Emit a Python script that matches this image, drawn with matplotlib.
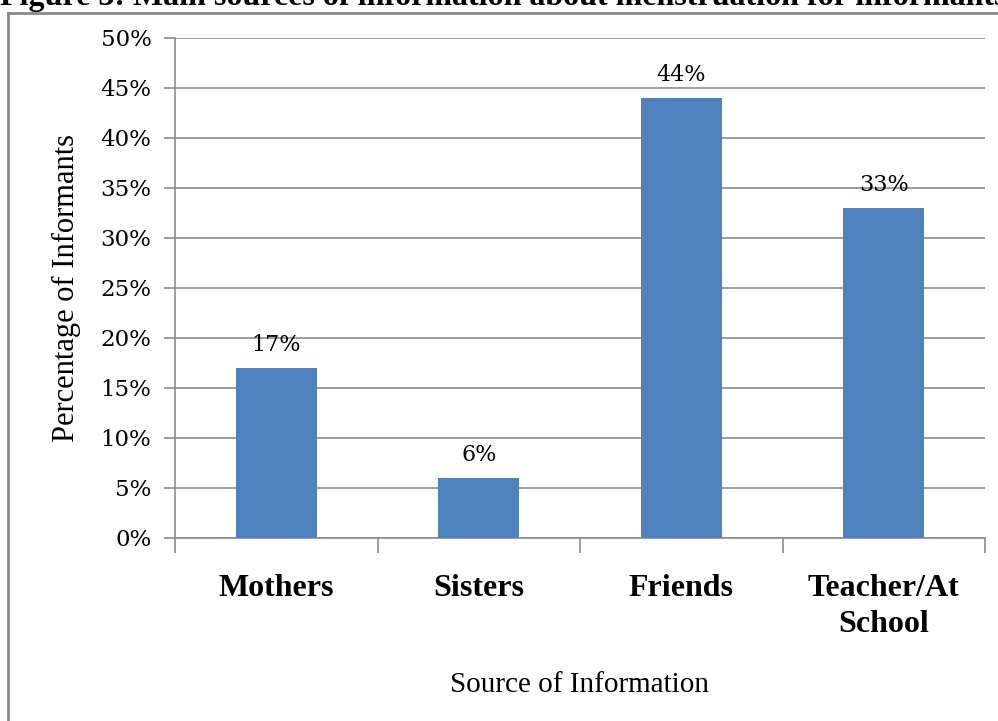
import matplotlib
matplotlib.use("Agg")
import matplotlib.pyplot as plt
from matplotlib.lines import Line2D
from matplotlib.ticker import FuncFormatter, MultipleLocator

# Sources of information and share of informants (%)
sources = ["Mothers", "Sisters", "Friends", "Teacher/At\nSchool"]
shares = [17, 6, 44, 33]
title = "Figure 3: Main sources of information about menstruation for informants"

plt.rcParams["font.family"] = ["Liberation Serif", "DejaVu Serif"]
num_font = ["DejaVu Serif"]

fig = plt.figure(figsize=(9.98, 7.21), dpi=100)
ax = fig.add_axes([175 / 998, 1 - 538 / 721, 810 / 998, 500 / 721])

x = range(len(sources))
bars = ax.bar(x, shares, width=0.4, color="#4F81BD", zorder=3)
for b, v in zip(bars, shares):
    ax.text(b.get_x() + b.get_width() / 2, v + 1.2, f"{v}%",
            ha="center", va="bottom", fontsize=16, family=num_font)

ax.set_xlim(-0.5, len(sources) - 0.5)
ax.set_ylim(0, 50)
ax.yaxis.set_major_locator(MultipleLocator(5))
ax.yaxis.set_major_formatter(FuncFormatter(lambda v, p: f"{v:.0f}%"))
ax.grid(axis="y", color="#8c8c8c", linewidth=1.2, zorder=0)

# category labels centred, ticks at the category boundaries
ax.set_xticks(list(x))
ax.set_xticklabels(sources, fontsize=23, fontweight="bold", linespacing=1.3)
ax.tick_params(axis="x", length=0, pad=26)
ax.set_xticks([i - 0.5 for i in range(len(sources) + 1)], minor=True)
ax.tick_params(axis="x", which="minor", length=11, width=1.2, color="#8c8c8c")
ax.tick_params(axis="y", length=8, width=1.2, color="#8c8c8c", labelsize=16.5, pad=9)
for lab in ax.get_yticklabels():
    lab.set_family(num_font)

for side in ("top", "right"):
    ax.spines[side].set_visible(False)
for side in ("left", "bottom"):
    ax.spines[side].set_color("#8c8c8c")
    ax.spines[side].set_linewidth(1.2)

ax.set_ylabel("Percentage of Informants", fontsize=22, labelpad=14)
ax.set_xlabel("Source of Information", fontsize=21, labelpad=24)

# chart frame, cut by the page edges
fy = 1 - 13 / 721
fx = 8 / 998
fig.add_artist(Line2D([fx, fx], [0, fy], color="#8a8a8a", linewidth=2))
fig.add_artist(Line2D([fx, 1], [fy, fy], color="#8a8a8a", linewidth=2))

fig.text(0.0, 1 - 5 / 721, title, ha="left", va="baseline",
         fontsize=23, fontweight="bold")

fig.savefig("out.png", dpi=100, facecolor="white")
